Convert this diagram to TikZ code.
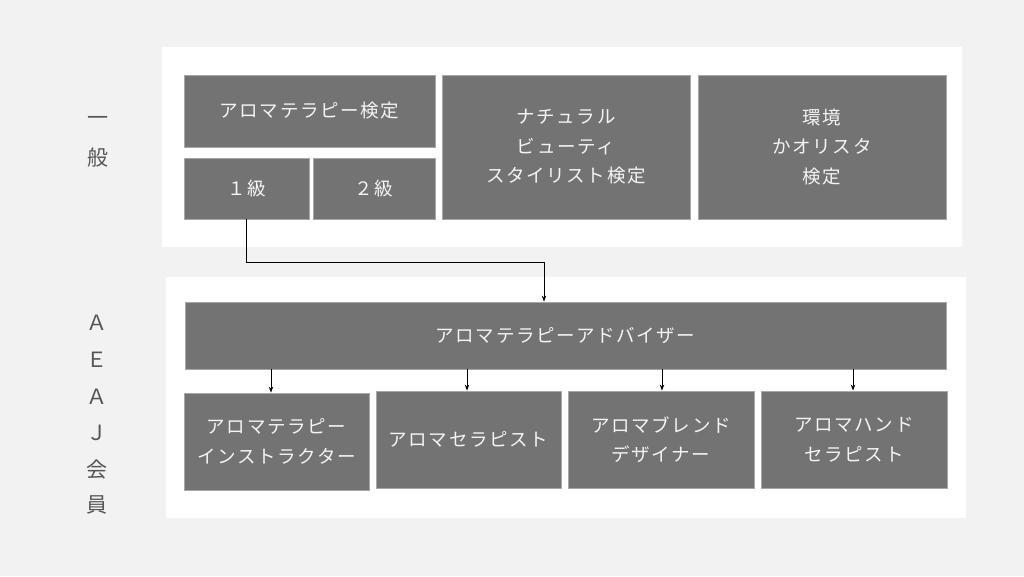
\documentclass[tikz,border=0pt]{standalone}
\usepackage{fontspec}
\newfontfamily\jp[LetterSpace=9]{Noto Sans CJK JP}
\newfontfamily\jpl{Noto Sans CJK JP}
\usetikzlibrary{arrows.meta}
\definecolor{bg}{HTML}{F2F2F2}
\definecolor{boxfill}{HTML}{737373}
\definecolor{boxline}{HTML}{A8A8A8}
\definecolor{boxtext}{HTML}{F4F4F4}
\definecolor{labeltext}{HTML}{555555}
\begin{document}
\begin{tikzpicture}[x=1pt,y=-1pt,
  gbox/.style={rectangle,fill=boxfill,draw=boxline,line width=0.8pt,inner sep=0pt,
    text=boxtext,font=\jp\fontsize{18.5}{29.5}\selectfont,align=center},
  conn/.style={draw=black,line width=1pt},
  arr/.style={conn,-{Stealth[length=6pt,width=4.5pt]}},
  sidelbl/.style={text=labeltext,font=\jpl\fontsize{21}{24}\selectfont,inner sep=0pt}
]
\useasboundingbox (0,0) rectangle (1024,576);
\fill[bg] (0,0) rectangle (1024,576);
% panels
\fill[white] (162,47) rectangle (962,247);
\fill[white] (166,277) rectangle (966,518);
% top boxes
\node[gbox,minimum width=251pt,minimum height=72pt] (kentei) at (309.5,111) {アロマテラピー検定};
\node[gbox,minimum width=125pt,minimum height=61pt] (l1) at (246.5,188.5) {１級};
\node[gbox,minimum width=122pt,minimum height=61pt] (l2) at (374,188.5) {２級};
\node[gbox,minimum width=248pt,minimum height=144pt] (natural) at (566,147) {ナチュラル\\ビューティ\\スタイリスト検定};
\node[gbox,minimum width=248pt,minimum height=144pt] (kankyo) at (822,147) {環境\\かオリスタ\\検定};
% adviser
\node[gbox,minimum width=761pt,minimum height=67pt] (adv) at (565.5,335.5) {アロマテラピーアドバイザー};
% bottom boxes
\node[gbox,minimum width=185pt,minimum height=97pt] (instr) at (276.5,441.5) {アロマテラピー\\インストラクター};
\node[gbox,minimum width=185pt,minimum height=97pt] (ther) at (468.5,439.5) {アロマセラピスト};
\node[gbox,minimum width=186pt,minimum height=97pt] (blend) at (661,439.5) {アロマブレンド\\デザイナー};
\node[gbox,minimum width=186pt,minimum height=97pt] (hand) at (854,439.5) {アロマハンド\\セラピスト};
% connectors
\coordinate (bend) at (544,262);
\draw[arr] (l1.south) |- (bend) -- (bend |- adv.north);
\draw[arr] ([xshift=-5.5pt]adv.south -| instr.north) -- ([xshift=-5.5pt]instr.north);
\draw[arr] ([xshift=-1.5pt]adv.south -| ther.north) -- ([xshift=-1.5pt]ther.north);
\draw[arr] ([xshift=1pt]adv.south -| blend.north) -- ([xshift=1pt]blend.north);
\draw[arr] ([xshift=-1pt]adv.south -| hand.north) -- ([xshift=-1pt]hand.north);
% side labels
\node[sidelbl] (s1) at (98,121) {一};
\node[sidelbl] (s2) at (98,158) {般};
\node[sidelbl] (a1) at (97,323) {Ａ};
\node[sidelbl] (a2) at (97,359.5) {Ｅ};
\node[sidelbl] (a3) at (97,396.5) {Ａ};
\node[sidelbl] (a4) at (97,433) {Ｊ};
\node[sidelbl] (a5) at (97,469.5) {会};
\node[sidelbl] (a6) at (97,505) {員};
\end{tikzpicture}
\end{document}
